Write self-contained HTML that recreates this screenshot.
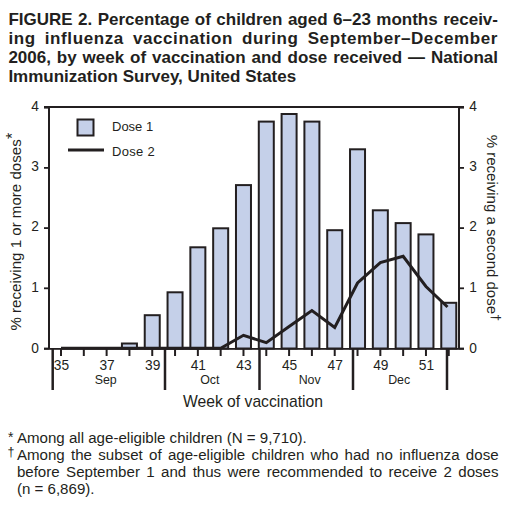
<!DOCTYPE html>
<html><head><meta charset="utf-8"><style>
html,body{margin:0;padding:0;background:#fff;}
body{width:516px;height:508px;position:relative;overflow:hidden;}
.t{position:absolute;left:8.4px;width:489.6px;font-family:"Liberation Sans",sans-serif;font-weight:bold;font-size:17px;line-height:19px;color:#231f20;text-align:justify;text-align-last:justify;white-space:nowrap;}
.f{position:absolute;left:16.9px;width:481.7px;font-family:"Liberation Sans",sans-serif;font-size:15.1px;line-height:17px;color:#231f20;text-align:justify;text-align-last:justify;white-space:nowrap;}
.fl{text-align-last:left;}
.m{position:absolute;font-family:"Liberation Sans",sans-serif;font-size:11px;color:#231f20;}
svg{position:absolute;left:0;top:0;}
</style></head><body>
<svg width="516" height="508" viewBox="0 0 516 508">
<rect x="121.93" y="343.50" width="15" height="5.00" fill="#c5d0e9" stroke="#231f20" stroke-width="2"/>
<rect x="144.74" y="315.20" width="15" height="33.30" fill="#c5d0e9" stroke="#231f20" stroke-width="2"/>
<rect x="167.55" y="292.30" width="15" height="56.20" fill="#c5d0e9" stroke="#231f20" stroke-width="2"/>
<rect x="190.36" y="247.30" width="15" height="101.20" fill="#c5d0e9" stroke="#231f20" stroke-width="2"/>
<rect x="213.17" y="228.30" width="15" height="120.20" fill="#c5d0e9" stroke="#231f20" stroke-width="2"/>
<rect x="235.98" y="185.10" width="15" height="163.40" fill="#c5d0e9" stroke="#231f20" stroke-width="2"/>
<rect x="258.79" y="121.60" width="15" height="226.90" fill="#c5d0e9" stroke="#231f20" stroke-width="2"/>
<rect x="281.60" y="114.00" width="15" height="234.50" fill="#c5d0e9" stroke="#231f20" stroke-width="2"/>
<rect x="304.41" y="121.60" width="15" height="226.90" fill="#c5d0e9" stroke="#231f20" stroke-width="2"/>
<rect x="327.22" y="230.20" width="15" height="118.30" fill="#c5d0e9" stroke="#231f20" stroke-width="2"/>
<rect x="350.03" y="149.30" width="15" height="199.20" fill="#c5d0e9" stroke="#231f20" stroke-width="2"/>
<rect x="372.84" y="210.30" width="15" height="138.20" fill="#c5d0e9" stroke="#231f20" stroke-width="2"/>
<rect x="395.65" y="223.10" width="15" height="125.40" fill="#c5d0e9" stroke="#231f20" stroke-width="2"/>
<rect x="418.46" y="234.40" width="15" height="114.10" fill="#c5d0e9" stroke="#231f20" stroke-width="2"/>
<rect x="441.27" y="302.80" width="15" height="45.70" fill="#c5d0e9" stroke="#231f20" stroke-width="2"/>
<rect x="44" y="106" width="420" height="2" fill="#231f20"/>
<rect x="44" y="348" width="420" height="1.8" fill="#231f20"/>
<rect x="48" y="106" width="2" height="243" fill="#231f20"/>
<rect x="458" y="106" width="2" height="243" fill="#231f20"/>
<line x1="44" y1="348.50" x2="49" y2="348.50" stroke="#231f20" stroke-width="1.8"/>
<line x1="459" y1="348.50" x2="464" y2="348.50" stroke="#231f20" stroke-width="1.8"/>
<line x1="44" y1="288.30" x2="49" y2="288.30" stroke="#231f20" stroke-width="1.8"/>
<line x1="459" y1="288.30" x2="464" y2="288.30" stroke="#231f20" stroke-width="1.8"/>
<line x1="44" y1="228.10" x2="49" y2="228.10" stroke="#231f20" stroke-width="1.8"/>
<line x1="459" y1="228.10" x2="464" y2="228.10" stroke="#231f20" stroke-width="1.8"/>
<line x1="44" y1="167.90" x2="49" y2="167.90" stroke="#231f20" stroke-width="1.8"/>
<line x1="459" y1="167.90" x2="464" y2="167.90" stroke="#231f20" stroke-width="1.8"/>
<line x1="44" y1="107.70" x2="49" y2="107.70" stroke="#231f20" stroke-width="1.8"/>
<line x1="459" y1="107.70" x2="464" y2="107.70" stroke="#231f20" stroke-width="1.8"/>
<line x1="61.00" y1="349" x2="61.00" y2="356" stroke="#231f20" stroke-width="2"/>
<line x1="83.81" y1="349" x2="83.81" y2="356" stroke="#231f20" stroke-width="2"/>
<line x1="106.62" y1="349" x2="106.62" y2="356" stroke="#231f20" stroke-width="2"/>
<line x1="129.43" y1="349" x2="129.43" y2="356" stroke="#231f20" stroke-width="2"/>
<line x1="152.24" y1="349" x2="152.24" y2="356" stroke="#231f20" stroke-width="2"/>
<line x1="175.05" y1="349" x2="175.05" y2="356" stroke="#231f20" stroke-width="2"/>
<line x1="197.86" y1="349" x2="197.86" y2="356" stroke="#231f20" stroke-width="2"/>
<line x1="220.67" y1="349" x2="220.67" y2="356" stroke="#231f20" stroke-width="2"/>
<line x1="243.48" y1="349" x2="243.48" y2="356" stroke="#231f20" stroke-width="2"/>
<line x1="266.29" y1="349" x2="266.29" y2="356" stroke="#231f20" stroke-width="2"/>
<line x1="289.10" y1="349" x2="289.10" y2="356" stroke="#231f20" stroke-width="2"/>
<line x1="311.91" y1="349" x2="311.91" y2="356" stroke="#231f20" stroke-width="2"/>
<line x1="334.72" y1="349" x2="334.72" y2="356" stroke="#231f20" stroke-width="2"/>
<line x1="357.53" y1="349" x2="357.53" y2="356" stroke="#231f20" stroke-width="2"/>
<line x1="380.34" y1="349" x2="380.34" y2="356" stroke="#231f20" stroke-width="2"/>
<line x1="403.15" y1="349" x2="403.15" y2="356" stroke="#231f20" stroke-width="2"/>
<line x1="425.96" y1="349" x2="425.96" y2="356" stroke="#231f20" stroke-width="2"/>
<line x1="448.77" y1="349" x2="448.77" y2="356" stroke="#231f20" stroke-width="2"/>
<line x1="52.7" y1="349" x2="52.7" y2="390" stroke="#231f20" stroke-width="2.5"/>
<line x1="165" y1="349" x2="165" y2="390" stroke="#231f20" stroke-width="2.5"/>
<line x1="259.5" y1="349" x2="259.5" y2="390" stroke="#231f20" stroke-width="2.5"/>
<line x1="353" y1="349" x2="353" y2="390" stroke="#231f20" stroke-width="2.5"/>
<line x1="447" y1="349" x2="447" y2="390" stroke="#231f20" stroke-width="2.5"/>
<polyline points="61.00,348.30 83.81,348.30 106.62,348.30 129.43,348.30 152.24,348.30 175.05,348.30 197.86,348.30 220.67,348.30 243.48,335.30 266.29,342.70 289.10,326.50 311.91,310.50 334.72,327.50 357.53,283.00 380.34,262.60 403.15,256.30 425.96,286.50 447.50,307.00" fill="none" stroke="#231f20" stroke-width="3" stroke-linejoin="miter"/>
<rect x="77.5" y="119.5" width="16" height="16" fill="#c5d0e9" stroke="#231f20" stroke-width="2"/>
<line x1="68" y1="150" x2="104" y2="150" stroke="#231f20" stroke-width="3.2"/>
<text x="112" y="131" font-size="13" font-family="Liberation Sans" fill="#231f20">Dose 1</text>
<text x="112" y="156" font-size="13" letter-spacing="0.3" font-family="Liberation Sans" fill="#231f20">Dose 2</text>
<text transform="translate(35,352.70) scale(0.93,1)" font-size="14.8" text-anchor="middle" font-family="Liberation Sans" fill="#231f20">0</text>
<text transform="translate(473,352.70) scale(0.93,1)" font-size="14.8" text-anchor="middle" font-family="Liberation Sans" fill="#231f20">0</text>
<text transform="translate(35,292.00) scale(0.93,1)" font-size="14.8" text-anchor="middle" font-family="Liberation Sans" fill="#231f20">1</text>
<text transform="translate(473,292.00) scale(0.93,1)" font-size="14.8" text-anchor="middle" font-family="Liberation Sans" fill="#231f20">1</text>
<text transform="translate(35,231.00) scale(0.93,1)" font-size="14.8" text-anchor="middle" font-family="Liberation Sans" fill="#231f20">2</text>
<text transform="translate(473,231.00) scale(0.93,1)" font-size="14.8" text-anchor="middle" font-family="Liberation Sans" fill="#231f20">2</text>
<text transform="translate(35,171.00) scale(0.93,1)" font-size="14.8" text-anchor="middle" font-family="Liberation Sans" fill="#231f20">3</text>
<text transform="translate(473,171.00) scale(0.93,1)" font-size="14.8" text-anchor="middle" font-family="Liberation Sans" fill="#231f20">3</text>
<text transform="translate(35,110.80) scale(0.93,1)" font-size="14.8" text-anchor="middle" font-family="Liberation Sans" fill="#231f20">4</text>
<text transform="translate(473,110.80) scale(0.93,1)" font-size="14.8" text-anchor="middle" font-family="Liberation Sans" fill="#231f20">4</text>
<text transform="translate(61.50,370) scale(0.93,1)" font-size="14.8" text-anchor="middle" font-family="Liberation Sans" fill="#231f20">35</text>
<text transform="translate(107.12,370) scale(0.93,1)" font-size="14.8" text-anchor="middle" font-family="Liberation Sans" fill="#231f20">37</text>
<text transform="translate(152.74,370) scale(0.93,1)" font-size="14.8" text-anchor="middle" font-family="Liberation Sans" fill="#231f20">39</text>
<text transform="translate(198.36,370) scale(0.93,1)" font-size="14.8" text-anchor="middle" font-family="Liberation Sans" fill="#231f20">41</text>
<text transform="translate(243.98,370) scale(0.93,1)" font-size="14.8" text-anchor="middle" font-family="Liberation Sans" fill="#231f20">43</text>
<text transform="translate(289.60,370) scale(0.93,1)" font-size="14.8" text-anchor="middle" font-family="Liberation Sans" fill="#231f20">45</text>
<text transform="translate(335.22,370) scale(0.93,1)" font-size="14.8" text-anchor="middle" font-family="Liberation Sans" fill="#231f20">47</text>
<text transform="translate(380.84,370) scale(0.93,1)" font-size="14.8" text-anchor="middle" font-family="Liberation Sans" fill="#231f20">49</text>
<text transform="translate(426.46,370) scale(0.93,1)" font-size="14.8" text-anchor="middle" font-family="Liberation Sans" fill="#231f20">51</text>
<text x="105.7" y="384" font-size="12.4" text-anchor="middle" font-family="Liberation Sans" fill="#231f20">Sep</text>
<text x="209.8" y="384" font-size="12.4" text-anchor="middle" font-family="Liberation Sans" fill="#231f20">Oct</text>
<text x="309.7" y="384" font-size="12.4" text-anchor="middle" font-family="Liberation Sans" fill="#231f20">Nov</text>
<text x="399.2" y="384" font-size="12.4" text-anchor="middle" font-family="Liberation Sans" fill="#231f20">Dec</text>
<text x="253" y="407" font-size="15.7" text-anchor="middle" font-family="Liberation Sans" fill="#231f20">Week of vaccination</text>
<text transform="translate(20.9,231.6) rotate(-90)" font-size="15.1" text-anchor="middle" font-family="Liberation Sans" fill="#231f20">% receiving 1 or more doses<tspan font-size="16" dx="0.4" dy="-3">*</tspan></text>
<text transform="translate(487,228) rotate(90)" font-size="15" text-anchor="middle" font-family="Liberation Sans" fill="#231f20">% receiving a second dose<tspan font-size="13" dy="-5">†</tspan></text>
</svg>
<div class="t" style="top:10px">FIGURE 2. Percentage of children aged 6–23 months receiv-</div>
<div class="t" style="top:29px;letter-spacing:0.6px">ing influenza vaccination during September–December</div>
<div class="t" style="top:48px">2006, by week of vaccination and dose received — National</div>
<div class="t" style="top:67px;text-align-last:left">Immunization Survey, United States</div>
<div class="f fl" style="top:429px">Among all age-eligible children (N = 9,710).</div>
<div class="f" style="top:446px">Among the subset of age-eligible children who had no influenza dose</div>
<div class="f" style="top:463px">before September 1 and thus were recommended to receive 2 doses</div>
<div class="f fl" style="top:480px">(n = 6,869).</div>
<div class="m" style="left:8px;top:429px;font-size:14px">*</div>
<div class="m" style="left:7.5px;top:445px;font-size:12.5px">†</div>
</body></html>
